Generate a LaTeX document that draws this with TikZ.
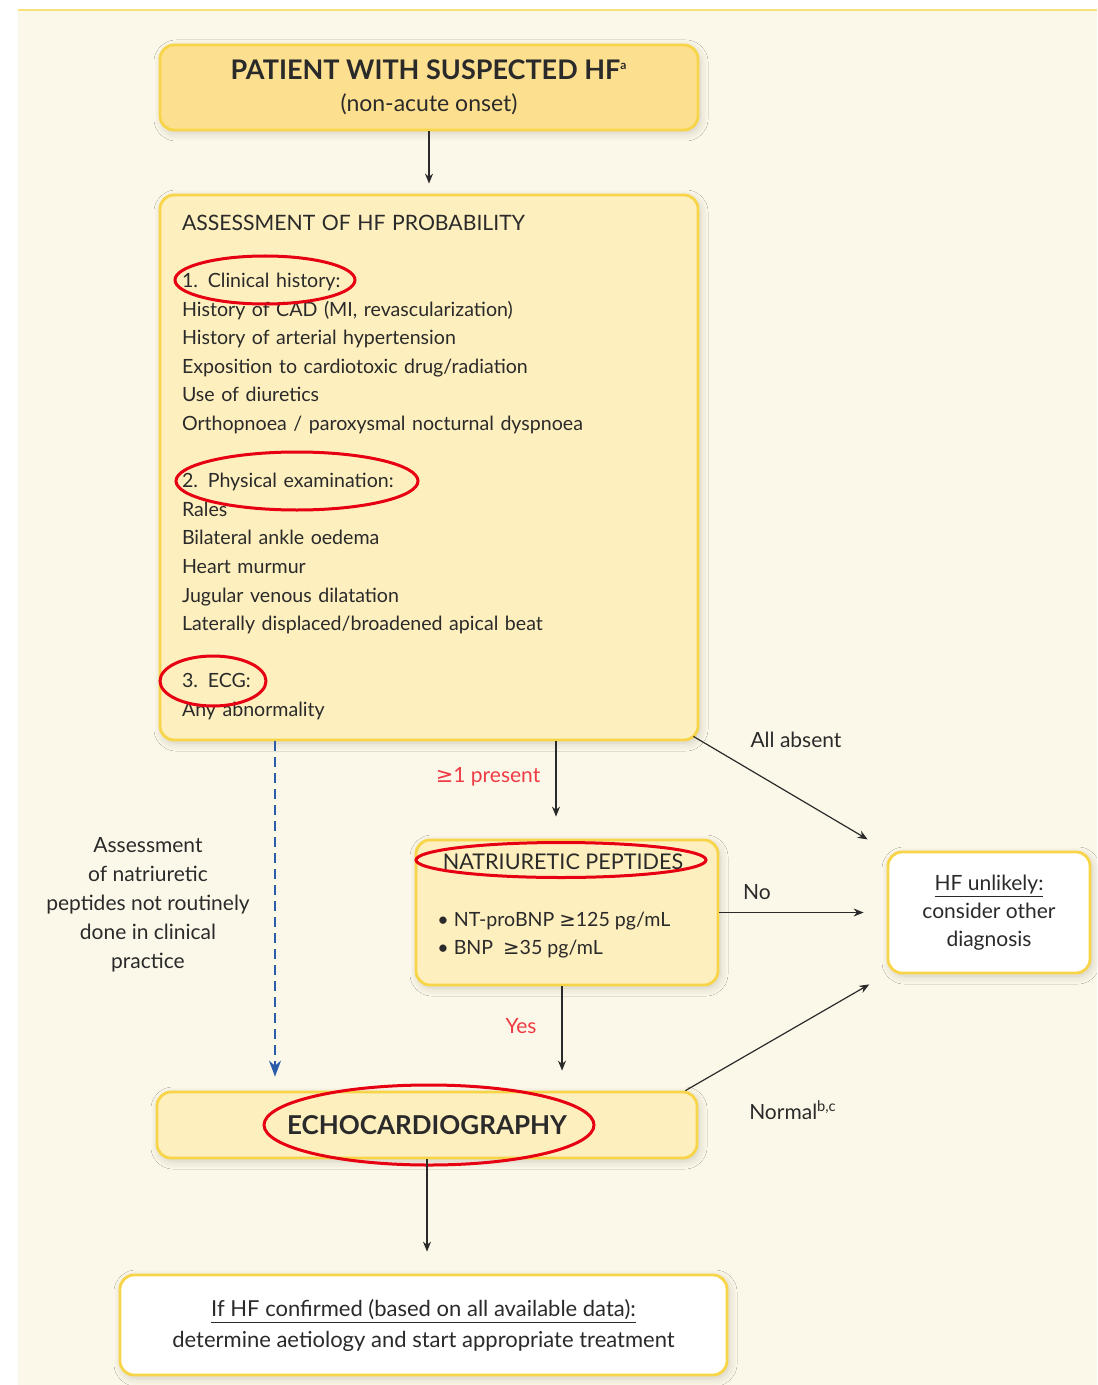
\documentclass[tikz,border=0pt]{standalone}
\usepackage{fontspec}
\setmainfont{Lato}
\newfontfamily\symfont{DejaVu Sans}
\usetikzlibrary{shapes.geometric, arrows.meta, positioning, calc, shadows.blur}
\definecolor{pagebg}{HTML}{FCF8E9}
\definecolor{edgeline}{HTML}{F9E07A}
\definecolor{boxline}{HTML}{F8D548}
\definecolor{boxfill}{HTML}{FEEFBE}
\definecolor{headfill}{HTML}{FDE08F}
\definecolor{markred}{HTML}{E60012}
\definecolor{labred}{HTML}{EE3B45}
\definecolor{dashblue}{HTML}{2B5CAA}
\definecolor{txt}{HTML}{2A2A2A}
\newcommand{\gesym}{{\symfont ≥}}

\begin{document}
\begin{tikzpicture}[x=0.5pt, y=-0.5pt, font=\fontsize{9.8}{14.3}\selectfont, >=Stealth, text=txt]
    \tikzset{
        fbox/.style={draw=boxline, line width=1.4pt, rounded corners=7pt, fill=boxfill,
            blur shadow={shadow xshift=1pt, shadow yshift=-1.5pt, shadow blur radius=4pt,
            shadow blur steps=12, shadow opacity=18}},
        wbox/.style={fbox, fill=white},
        redring/.style={draw=markred, line width=1.5pt, ellipse, inner sep=0pt},
        flow/.style={draw=txt, line width=0.6pt, -{Stealth[length=5pt, width=4pt]}},
        lbl/.style={font=\fontsize{10.5}{13}\selectfont},
    }
    % page
    \useasboundingbox (0,0) rectangle (1097,1385);
    \fill[pagebg] (18,10) rectangle (1097,1385);
    \draw[edgeline, line width=1.2pt] (18,10) -- (1097,10);

    % boxes
    \node[fbox, fill=headfill, minimum width=269pt, minimum height=42.5pt, align=center,
        font=\fontsize{11.5}{16}\selectfont] (suspect) at (429,87.5)
        {{\fontsize{13.5}{16}\selectfont\bfseries PATIENT WITH SUSPECTED HF\textsuperscript{\fontsize{6}{6}\selectfont a}}\\(non-acute onset)};

    \node[fbox, minimum width=269pt, minimum height=272.5pt, text width=247pt, align=left,
        inner xsep=11pt] (assess) at (429,467.5)
        {{\fontsize{10.6}{14.3}\selectfont ASSESSMENT OF HF PROBABILITY}\\[14.3pt]
        1. Clinical history:\\
        History of CAD (MI, revascularization)\\
        History of arterial hypertension\\
        Exposition to cardiotoxic drug/radiation\\
        Use of diuretics\\
        Orthopnoea / paroxysmal nocturnal dyspnoea\\[14.3pt]
        2. Physical examination:\\
        Rales\\
        Bilateral ankle oedema\\
        Heart murmur\\
        Jugular venous dilatation\\
        Laterally displaced/broadened apical beat\\[14.3pt]
        3. ECG:\\
        Any abnormality};

    \node[fbox, minimum width=151pt, minimum height=72.5pt] (natri) at (567,912.5) {};
    \node[font=\fontsize{10.8}{13}\selectfont] (natrihead) at (563,862) {NATRIURETIC PEPTIDES};
    \node[anchor=west, align=left, inner sep=0pt] (natrilist) at (437,935)
        {• NT-proBNP \gesym125 pg/mL\\• BNP\ \ \gesym35 pg/mL};

    \node[wbox, minimum width=101pt, minimum height=60.5pt, align=center,
        font=\fontsize{10.5}{14}\selectfont] (unlikely) at (989,912.5)
        {\underline{HF unlikely:}\\consider other\\diagnosis};

    \node[fbox, minimum width=270pt, minimum height=33pt,
        font=\fontsize{13}{14}\selectfont\bfseries] (echo) at (427,1125) {ECHOCARDIOGRAPHY};

    \node[wbox, minimum width=303.5pt, minimum height=50pt, align=center,
        font=\fontsize{11}{15.5}\selectfont] (confirm) at (423.5,1325)
        {\underline{If HF confirmed (based on all available data):}\\
        determine aetiology and start appropriate treatment};

    % red marks
    \node[redring, minimum width=90pt, minimum height=24pt] (markhist) at (265,280) {};
    \node[redring, minimum width=121pt, minimum height=29pt] (markphys) at (297,481) {};
    \node[redring, minimum width=53pt, minimum height=25pt] (markecg) at (213,681) {};
    \node[redring, minimum width=145pt, minimum height=17.5pt] (marknatri) at (561,860) {};
    \node[redring, minimum width=165pt, minimum height=40pt] (markecho) at (429,1125) {};

    % connectors
    \draw[flow, shorten >=5pt] (suspect.south) -- (assess.north);
    \draw[flow, shorten >=11pt] ([xshift=63.5pt]assess.south) -- ([xshift=-5.5pt]natri.north);
    \draw[flow, shorten >=11pt] ([xshift=-3pt, yshift=2.5pt]assess.south east) -- (unlikely.north west);
    \draw[flow, shorten >=11.5pt] (natri.east) -- (unlikely.west);
    \draw[flow, shorten >=10pt] ([xshift=-2.5pt]natri.south) -- ([xshift=-2.5pt]natri.south |- echo.north);
    \draw[flow, shorten >=10pt] ([xshift=-6.5pt]echo.north east) -- (unlikely.south west);
    \draw[flow, shorten >=11pt] (echo.south) -- (echo.south |- confirm.north);
    \coordinate (dashtop) at ([xshift=-77pt]assess.south);
    \draw[dashblue, line width=1pt, dash pattern=on 5pt off 3pt, shorten >=7pt,
        -{Stealth[length=8pt, width=6pt]}] (dashtop) -- (dashtop |- echo.north);

    % labels
    \node[lbl, text=labred] (presentlbl) at (488,777) {\gesym1 present};
    \node[lbl] (absentlbl) at (796,740) {All absent};
    \node[lbl] (nolbl) at (757,892) {No};
    \node[lbl, text=labred] (yeslbl) at (521,1026) {Yes};
    \node[lbl] (normallbl) at (793,1110) {Normal\textsuperscript{b,c}};
    \node[lbl, align=center, font=\fontsize{10.5}{14.5}\selectfont] (notdone) at (148,905)
        {Assessment\\of natriuretic\\peptides not routinely\\done in clinical\\practice};
\end{tikzpicture}
\end{document}
